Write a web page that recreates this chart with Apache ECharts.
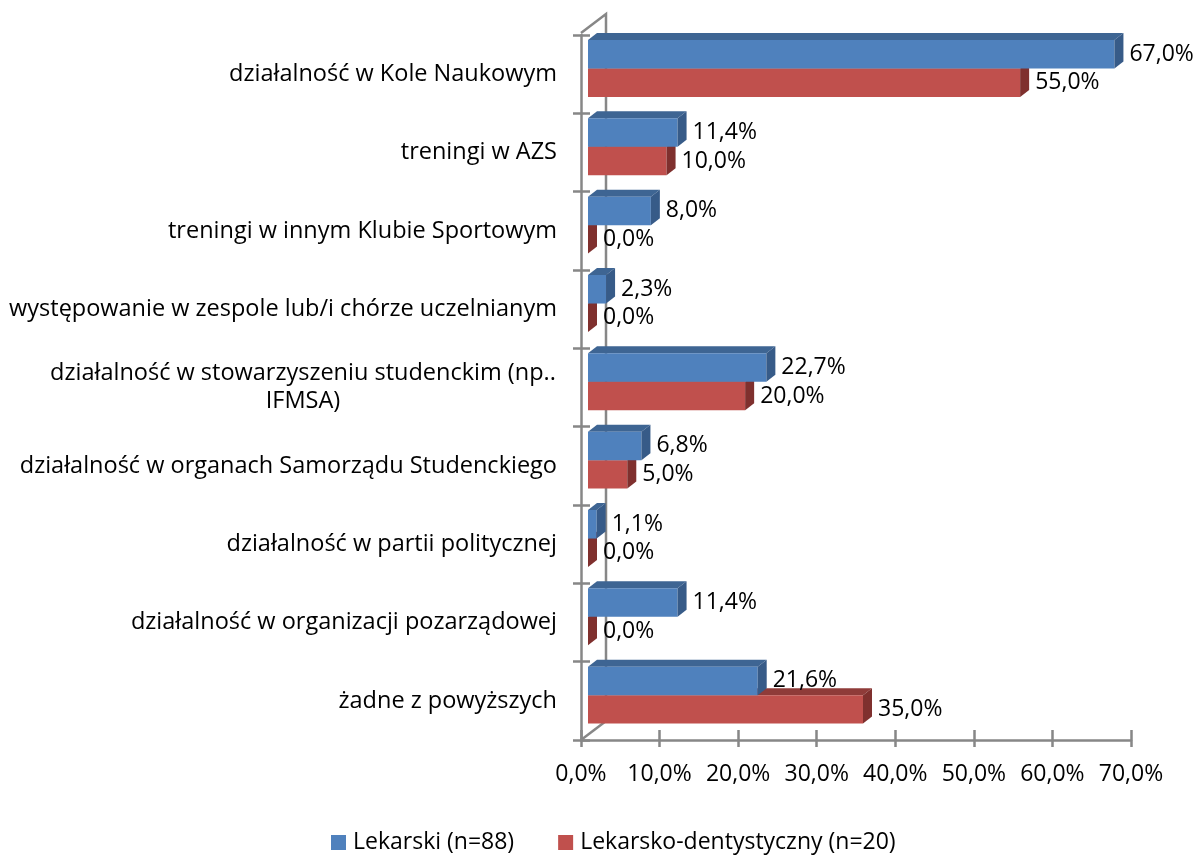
<!DOCTYPE html>
<html lang="pl">
<head>
<meta charset="utf-8">
<title>Aktywność studentów</title>
<script src="https://cdn.jsdelivr.net/npm/echarts@6/dist/echarts.min.js"></script>
<style>
  html, body { margin: 0; padding: 0; background: #fff; }
  #chart { width: 1200px; height: 855px; }
</style>
</head>
<body>
<div id="chart"></div>
<script>
// dane
var categories = [
  'działalność w Kole Naukowym',
  'treningi w AZS',
  'treningi w innym Klubie Sportowym',
  'występowanie w zespole lub/i chórze uczelnianym',
  'działalność w stowarzyszeniu studenckim (np.. IFMSA)',
  'działalność w organach Samorządu Studenckiego',
  'działalność w partii politycznej',
  'działalność w organizacji pozarządowej',
  'żadne z powyższych'
];
var lekarski = [67.0, 11.4, 8.0, 2.3, 22.7, 6.8, 1.1, 11.4, 21.6];
var dentystyczny = [55.0, 10.0, 0.0, 0.0, 20.0, 5.0, 0.0, 0.0, 35.0];
var seriesNames = ['Lekarski (n=88)', 'Lekarsko-dentystyczny (n=20)'];
var xTicks = [0, 10, 20, 30, 40, 50, 60, 70];

var FONT = '"Open Sans", "Noto Sans", sans-serif';
var CAT_SIZE = 23.5;
var AXIS_GRAY = '#878787';
var colors = [
  { front: '#4f81bd', top: '#3e6593', side: '#375b88' },
  { front: '#c0504d', top: '#8f3b39', side: '#7f302e' }
];

var pct = function (v) { return v.toFixed(1).replace('.', ',') + '%'; };

// szerokosc pierwszej linii zawinietej etykiety
var ctx = document.createElement('canvas').getContext('2d');
ctx.font = CAT_SIZE + 'px ' + FONT;
var wrapW = Math.ceil(ctx.measureText('działalność w stowarzyszeniu studenckim (np..').width) + 2;

function renderBar(s) {
  return function (params, api) {
    var cat = api.value(0), v = api.value(1);
    var p0 = api.coord([0, cat]);
    var p1 = api.coord([v, cat]);
    var band = api.size([0, 1])[1];
    var top = p0[1] - band / 2;
    var y1 = top + band * (s === 0 ? 0.064 : 0.428);
    var y2 = top + band * (s === 0 ? 0.428 : 0.79);
    var x0 = p0[0] + 7, x1 = p1[0] + 7;
    var dx = 9, dy = 7;
    var c = colors[s];
    return {
      type: 'group',
      children: [
        { type: 'polygon', shape: { points: [[x0, y1], [x0 + dx, y1 - dy], [x1 + dx, y1 - dy], [x1, y1]] }, style: { fill: c.top } },
        { type: 'rect', shape: { x: x0, y: y1, width: x1 - x0, height: y2 - y1 }, style: { fill: c.front } },
        { type: 'polygon', shape: { points: [[x1, y1], [x1 + dx, y1 - dy], [x1 + dx, y2 - dy], [x1, y2]] }, style: { fill: c.side } },
        { type: 'text', x: x1 + 15, y: (y1 + y2) / 2, style: { text: pct(v), fill: '#000', font: '23px ' + FONT, verticalAlign: 'middle', align: 'left' } }
      ]
    };
  };
}

var chart = echarts.init(document.getElementById('chart'));

var catAxisBase = {
  type: 'category',
  data: categories,
  inverse: true,
  axisLine: { show: false },
  axisTick: { show: true, length: 8, lineStyle: { color: AXIS_GRAY, width: 2.5 } },
  splitLine: { show: false }
};

var option = {
  backgroundColor: '#fff',
  animation: false,
  grid: { left: 581, right: 69, top: 35, bottom: 115, containLabel: false },
  legend: {
    left: 326,
    top: 826,
    itemWidth: 15,
    itemHeight: 15,
    itemGap: 44,
    textStyle: { fontFamily: FONT, fontSize: 23, color: '#000', padding: [0, 0, 0, 2] },
    data: [
      { name: seriesNames[0], icon: 'rect', itemStyle: { color: colors[0].front } },
      { name: seriesNames[1], icon: 'rect', itemStyle: { color: colors[1].front } }
    ]
  },
  xAxis: [{
    type: 'value',
    min: xTicks[0],
    max: xTicks[xTicks.length - 1],
    interval: 10,
    axisLine: { show: true, lineStyle: { color: AXIS_GRAY, width: 2.5 } },
    axisTick: { show: true, length: 7, lineStyle: { color: AXIS_GRAY, width: 2.5 } },
    splitLine: { show: false },
    axisLabel: { margin: 23, fontFamily: FONT, fontSize: 23, color: '#000', formatter: pct }
  }, {
    type: 'value',
    position: 'bottom',
    min: xTicks[0],
    max: xTicks[xTicks.length - 1],
    interval: 10,
    axisLine: { show: false },
    axisTick: { show: true, inside: true, length: 10, lineStyle: { color: AXIS_GRAY, width: 2.5 } },
    axisLabel: { show: false },
    splitLine: { show: false }
  }],
  yAxis: [
    Object.assign({}, catAxisBase, {
      axisLine: { show: true, lineStyle: { color: AXIS_GRAY, width: 2.5 } },
      axisLabel: {
        margin: 24,
        fontFamily: FONT,
        fontSize: CAT_SIZE,
        color: '#000',
        lineHeight: 28,
        formatter: function (v) {
          if (v.indexOf('(np..') > -1) {
            return '{c|działalność w stowarzyszeniu studenckim (np..}\n{c|IFMSA)}';
          }
          return v;
        },
        rich: { c: { width: wrapW, align: 'center', fontFamily: FONT, fontSize: CAT_SIZE, color: '#000', lineHeight: 28 } }
      }
    }),
    Object.assign({}, catAxisBase, {
      position: 'left',
      axisTick: { show: true, inside: true, length: 9, lineStyle: { color: AXIS_GRAY, width: 2.5 } },
      axisLabel: { show: false }
    })
  ],
  series: [
    {
      name: seriesNames[0],
      type: 'custom',
      z: 4,
      itemStyle: { color: colors[0].front },
      encode: { x: 1, y: 0 },
      data: lekarski.map(function (v, i) { return [i, v]; }),
      renderItem: renderBar(0)
    },
    {
      name: seriesNames[1],
      type: 'custom',
      z: 3,
      itemStyle: { color: colors[1].front },
      encode: { x: 1, y: 0 },
      data: dentystyczny.map(function (v, i) { return [i, v]; }),
      renderItem: renderBar(1)
    }
  ]
};

chart.setOption(option);

// tylna sciana 3D
var x0 = chart.convertToPixel({ xAxisIndex: 0 }, 0);
var c0 = chart.convertToPixel({ yAxisIndex: 0 }, 0);
var c1 = chart.convertToPixel({ yAxisIndex: 0 }, 1);
var cN = chart.convertToPixel({ yAxisIndex: 0 }, categories.length - 1);
var band = c1 - c0;
var yTop = c0 - band / 2 - 2, yBot = cN + band / 2;
var ddx = 25, ddy = 19;
chart.setOption({
  graphic: [
    { type: 'polyline', z: 0, silent: true,
      shape: { points: [[x0, yTop], [x0 + ddx, yTop - ddy], [x0 + ddx, yBot - ddy]] },
      style: { stroke: AXIS_GRAY, lineWidth: 2.5, fill: null } },
    { type: 'line', z: 0, silent: true,
      shape: { x1: x0, y1: yBot, x2: x0 + ddx, y2: yBot - ddy },
      style: { stroke: AXIS_GRAY, lineWidth: 2.5 } }
  ]
});
</script>
</body>
</html>
